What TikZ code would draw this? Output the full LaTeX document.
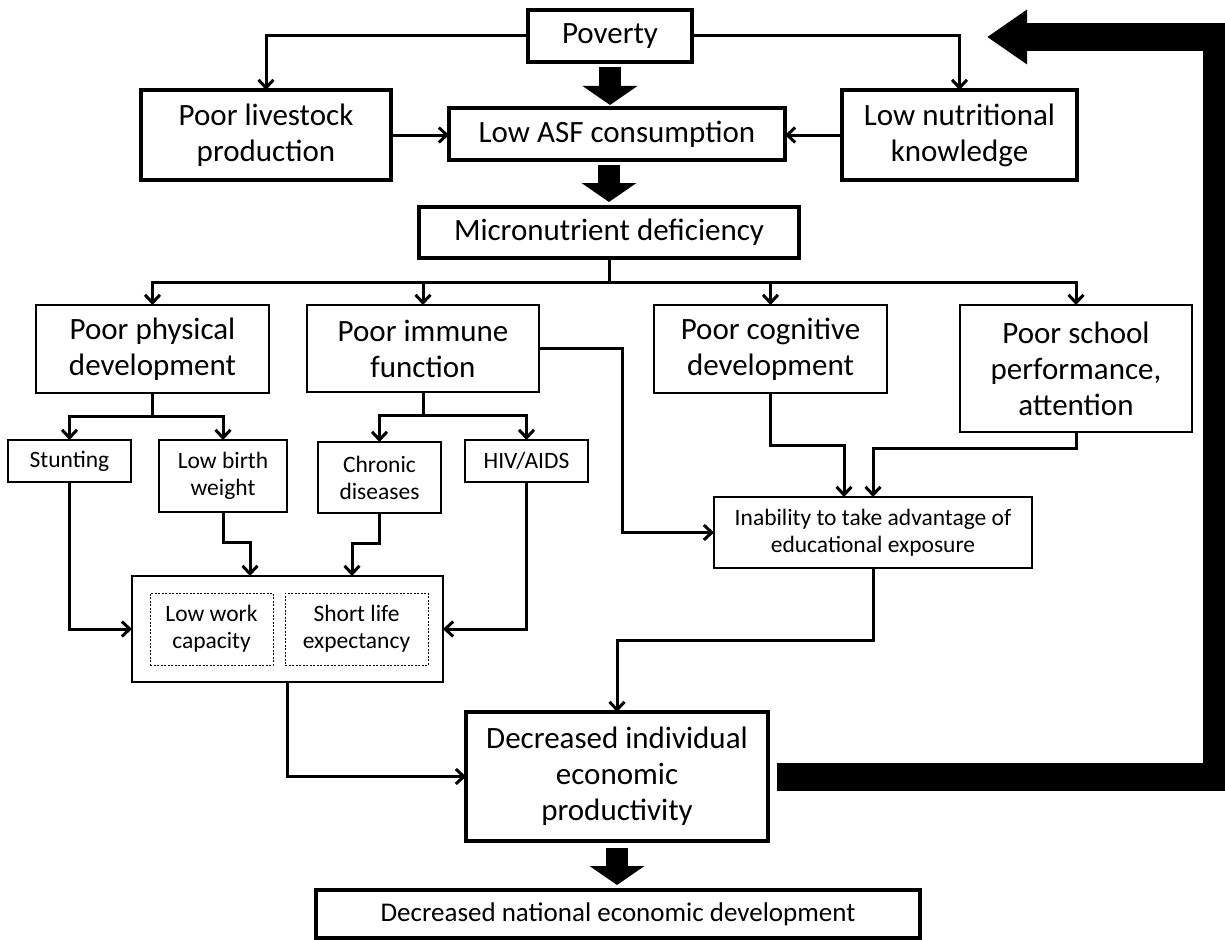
\documentclass[tikz,border=0pt]{standalone}
\usepackage{fontspec}
\setmainfont{Carlito}
\usetikzlibrary{arrows.meta}
\newcommand{\fbig}{\fontsize{31}{36}\selectfont}
\newcommand{\fsmall}{\fontsize{23.5}{27}\selectfont}
\newcommand{\fnat}{\fontsize{27}{31}\selectfont}
\begin{document}
\begin{tikzpicture}[x=1pt,y=-1pt,inner sep=0pt,outer sep=0pt,line width=3pt,
mainbox/.style={draw,rectangle,align=center,font=\fbig,line width=3.5pt},
subbox/.style={draw,rectangle,align=center,font=\fbig,line width=2pt},
smallbox/.style={draw,rectangle,align=center,font=\fsmall,line width=1.8pt},
dashbox/.style={draw,rectangle,align=center,font=\fsmall,line width=1pt,dash pattern=on 2pt off 1.5pt},
link/.style={-{Straight Barb[length=8pt,width=15pt]}},
fatarrow/.style={line width=22pt,-{Triangle[length=19pt,width=54pt]}}]
\useasboundingbox (0,0) rectangle (1225,939);
% top row
\draw (610,36) node[mainbox,minimum width=164pt,minimum height=52pt] (poverty) {Poverty};
\draw (266,135) node[mainbox,minimum width=250pt,minimum height=90pt] (livestock) {Poor livestock\\production};
\draw (617,134) node[mainbox,minimum width=336pt,minimum height=52pt] (asf) {Low ASF consumption};
\draw (959.5,135) node[mainbox,minimum width=235pt,minimum height=90pt] (nutr) {Low nutritional\\knowledge};
\draw (609,232.5) node[mainbox,minimum width=380pt,minimum height=51pt] (micro) {Micronutrient deficiency};
\draw[link] (poverty.west) -| (livestock.north);
\draw[link] (poverty.east) -| (nutr.north);
\draw[link] (livestock.east) -- (livestock.east -| asf.west);
\draw[link] (nutr.west) -- (nutr.west -| asf.east);
\draw[fatarrow,shorten <=5pt,shorten >=3pt] (poverty.south) -- (poverty.south |- asf.north);
\draw[fatarrow,shorten <=5pt,shorten >=5pt] (micro.north |- asf.south) -- (micro.north);
% consequences
\draw (152.5,349) node[subbox,minimum width=233pt,minimum height=88pt] (physical) {Poor physical\\development};
\draw (423,348.5) node[subbox,minimum width=232pt,minimum height=87pt] (immune) {Poor immune\\function};
\draw (770.5,349) node[subbox,minimum width=233pt,minimum height=88pt] (cognitive) {Poor cognitive\\development};
\draw (1076,368.5) node[subbox,minimum width=232pt,minimum height=127pt] (school) {Poor school\\performance,\\attention};
\draw (micro.south) -- ++(0,24) coordinate (bus);
\foreach \n in {physical,immune,cognitive,school}
  \draw[link] (bus) -| (\n.north);
\draw (69.5,461) node[smallbox,minimum width=123pt,minimum height=42pt] (stunting) {Stunting};
\draw (223,476) node[smallbox,minimum width=128pt,minimum height=72pt] (lbw) {Low birth\\weight};
\draw (379.5,477.5) node[smallbox,minimum width=123pt,minimum height=71pt] (chronic) {Chronic\\diseases};
\draw (526.5,461) node[smallbox,minimum width=123pt,minimum height=42pt] (hiv) {HIV/AIDS};
\draw (physical.south) -- ++(0,23) coordinate (physbr);
\draw[link] (physbr) -| (stunting.north);
\draw[link] (physbr) -| (lbw.north);
\draw (immune.south) -- ++(0,23.5) coordinate (immbr);
\draw[link] (immbr) -| (chronic.north);
\draw[link] (immbr) -| (hiv.north);
% health outcomes
\draw (287.5,629) node[subbox,minimum width=311pt,minimum height=106pt] (outcome) {};
\draw (211.5,629) node[dashbox,minimum width=123pt,minimum height=72pt] (work) {Low work\\capacity};
\draw (356.5,629) node[dashbox,minimum width=143pt,minimum height=72pt] (life) {Short life\\expectancy};
\draw[link] (stunting.south) |- (outcome.west);
\draw[link] (lbw.south) -- ++(0,30) -| ([xshift=-37.5pt]outcome.north);
\draw[link] (chronic.south) -- ++(0,30) -| ([xshift=64.5pt]outcome.north);
\draw[link] (hiv.south) |- (outcome.east);
% education
\draw (873,532.5) node[subbox,font=\fsmall,minimum width=318pt,minimum height=71pt] (inability) {Inability to take advantage of\\educational exposure};
\draw[link] (immune.east) -- ++(83,0) |- (inability.west);
\draw[link] (cognitive.south) -- ++(0,52) -| ([xshift=-29pt]inability.north);
\draw[link] (school.south) -- ++(0,16) -| (inability.north);
% productivity
\draw (617,776.5) node[mainbox,minimum width=302pt,minimum height=129pt] (individual) {Decreased individual\\economic\\productivity};
\draw (618,914) node[mainbox,font=\fnat,minimum width=604pt,minimum height=48pt] (national) {Decreased national economic development};
\draw[link] (outcome.south) |- (individual.west);
\draw[link] (inability.south) -- ++(0,72) -| (individual.north);
\draw[fatarrow,shorten <=7pt,shorten >=5pt] (individual.south) -- (individual.south |- national.north);
% feedback to poverty
\coordinate (fbtip) at (987,37);
\draw[line width=28pt,-{Triangle[length=40pt,width=52pt]}] ([xshift=9pt]individual.east) -| (1217,37) -- (fbtip);
\end{tikzpicture}
\end{document}
